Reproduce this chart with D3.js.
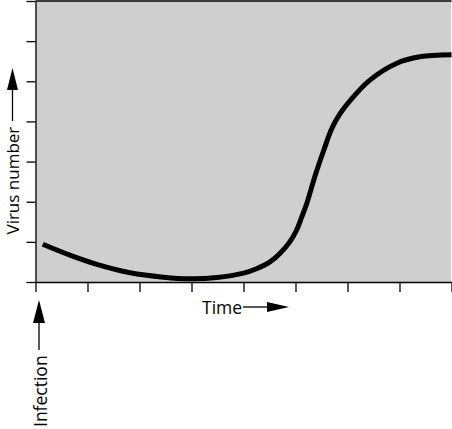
<!DOCTYPE html>
<html>
<head>
<meta charset="utf-8">
<script src="https://cdn.jsdelivr.net/npm/d3@7"></script>
<style>
body { margin: 0; background: #fff; }
text { font-family: "Open Sans", sans-serif; font-size: 17.5px; fill: #000; }
</style>
</head>
<body>
<div id="canvas"></div>
<script>
// tick positions (no labels in the original)
const timeTicks = [0, 1, 2, 3, 4, 5, 6, 7, 8]
const virusTicks = [0, 1, 2, 3, 4, 5, 6, 7]

// curve (time units = tick steps)
const time = [0.14, 0.66, 1.18, 1.82, 2.46, 2.97, 3.49, 4.0, 4.25, 4.51, 4.70, 4.89, 5.02, 5.12, 5.22, 5.38, 5.54, 5.70, 5.86, 6.05, 6.43, 6.95, 7.39, 8.0]
const virus = [0.94, 0.67, 0.44, 0.23, 0.12, 0.08, 0.11, 0.22, 0.33, 0.50, 0.71, 1.00, 1.29, 1.62, 1.97, 2.66, 3.27, 3.83, 4.20, 4.52, 5.03, 5.45, 5.61, 5.66]

const xLabel = "Time"
const yLabel = "Virus number"
const eventLabel = "Infection"

const width = 452
const height = 429
const margin = { top: 1, left: 35.5, right: 0.5, bottom: 147 }
const iwidth = width - margin.left - margin.right
const iheight = height - margin.top - margin.bottom

const svg = d3.select("#canvas").append("svg")
    .attr("width", width)
    .attr("height", height)
    .style("display", "block")

const g = svg.append("g")
    .attr("transform", `translate(${margin.left}, ${margin.top})`)

const x = d3.scaleLinear().domain([0, 8]).range([0, iwidth])
const y = d3.scaleLinear().domain([0, 7]).range([iheight, 0])

g.append("rect")
    .attr("x", 0)
    .attr("y", 0)
    .attr("width", iwidth - 0.5)
    .attr("height", iheight)
    .style("fill", "#cfcfcf")

// top border
g.append("line")
    .attr("x1", 0).attr("x2", iwidth)
    .attr("y1", y(7)).attr("y2", y(7))
    .style("stroke", "#000")
    .style("stroke-width", 1.3)

const yAxis = g.append("g")
    .call(d3.axisLeft(y).tickValues(virusTicks).tickSize(9).tickSizeOuter(0).tickFormat(""))
const xAxis = g.append("g")
    .attr("transform", `translate(0, ${iheight})`)
    .call(d3.axisBottom(x).tickValues(timeTicks).tickSize(10).tickSizeOuter(0).tickFormat(""))

svg.selectAll(".domain, .tick line")
    .style("stroke", "#000")
    .style("stroke-width", 1.3)

const pts = time.map((t, i) => ({ t: t, v: virus[i] }))
const line = d3.line()
    .x(d => x(d.t))
    .y(d => y(d.v))
    .curve(d3.curveCatmullRom.alpha(0.5))

g.append("path")
    .datum(pts)
    .attr("d", line)
    .style("fill", "none")
    .style("stroke", "#000")
    .style("stroke-width", 5)

// labels with arrows
function arrow(x1, y1, x2, y2, headLen, headHalf) {
    const a = Math.atan2(y2 - y1, x2 - x1)
    const bx = x2 - headLen * Math.cos(a), by = y2 - headLen * Math.sin(a)
    const nx = -Math.sin(a) * headHalf, ny = Math.cos(a) * headHalf
    svg.append("line")
        .attr("x1", x1).attr("y1", y1).attr("x2", bx).attr("y2", by)
        .style("stroke", "#000").style("stroke-width", 1.3)
    svg.append("path")
        .attr("d", `M${x2},${y2}L${bx + nx},${by + ny}L${bx - nx},${by - ny}Z`)
        .style("fill", "#000")
}

svg.append("text")
    .attr("x", 202)
    .attr("y", 314)
    .text(xLabel)
arrow(243, 307, 289, 307, 22, 5)

svg.append("text")
    .attr("transform", "translate(18.5, 234.5) rotate(-90)")
    .style("font-size", "17px")
    .text(yLabel)
arrow(12.5, 121, 12.5, 68, 22, 5.5)

svg.append("text")
    .attr("transform", "translate(46.5, 427) rotate(-90)")
    .text(eventLabel)
arrow(39, 350, 39, 300, 23, 6)
</script>
</body>
</html>
